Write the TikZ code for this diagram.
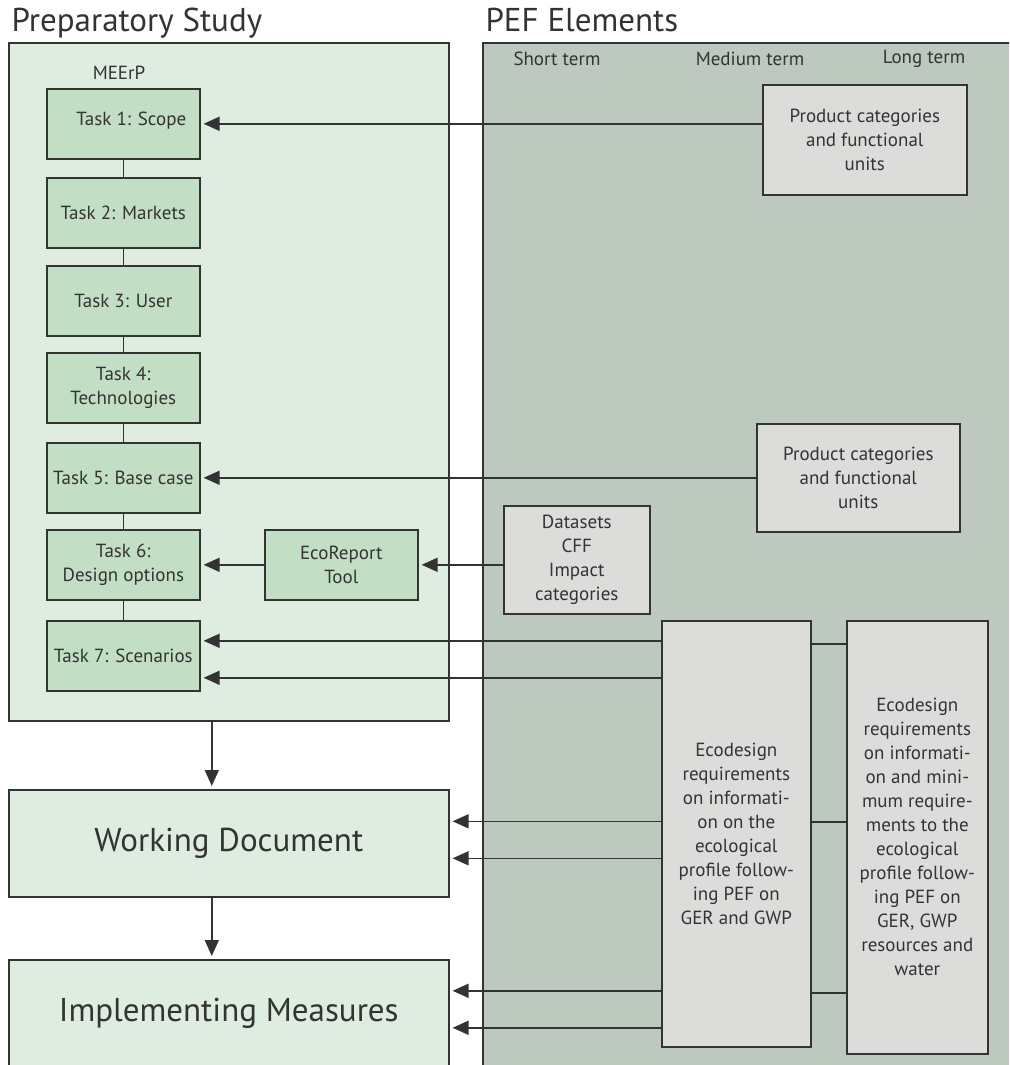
\documentclass[tikz,border=0pt]{standalone}
\usepackage{fontspec}
\setmainfont{PT Sans}
\usetikzlibrary{arrows.meta}

\definecolor{prepfill}{HTML}{DFEDE1}
\definecolor{taskfill}{HTML}{C2DFC5}
\definecolor{peffill}{HTML}{BDC9BF}
\definecolor{boxfill}{HTML}{DCDDDA}
\definecolor{ink}{HTML}{333333}

\newcommand{\boxtext}{\fontsize{19}{24}\selectfont}
\newcommand{\headtext}{\fontsize{33}{38}\selectfont}

\begin{document}
\begin{tikzpicture}[x=1pt,y=-1pt,
  every node/.style={text=ink},
  panel/.style={draw=ink,line width=1.6pt,anchor=north west,inner sep=0pt},
  task/.style={draw=ink,line width=1.6pt,fill=taskfill,anchor=north west,inner sep=0pt,
    minimum width=153pt,minimum height=70pt,align=center,font=\boxtext},
  graybox/.style={draw=ink,line width=1.6pt,fill=boxfill,anchor=north west,inner sep=0pt,
    align=center,font=\boxtext},
  link/.style={draw=ink,line width=1.6pt},
  arr/.style={link,-{Triangle[length=16pt,width=14pt]},shorten >=3pt}]

  \useasboundingbox (0,0) rectangle (1009,1065);
  \clip (0,0) rectangle (1009,1065);

  % the two big panels
  \node[panel,fill=prepfill,minimum width=440pt,minimum height=678pt] (prep) at (8,42) {};
  \node[panel,fill=peffill,minimum width=560pt,minimum height=1060pt] (pef) at (482,42) {};
  \node[anchor=base west,font=\headtext] (preptitle) at (8,32) {Preparatory Study};
  \node[anchor=base west,font=\headtext] (peftitle) at (482,32) {PEF Elements};

  % time horizons
  \node[font=\boxtext] (short) at (557,59) {Short term};
  \node[font=\boxtext] (medium) at (750,59) {Medium term};
  \node[font=\boxtext] (long) at (924,59) {Long term};

  % MEErP tasks
  \node[font=\boxtext] (meerp) at (119,73) {MEErP};
  \node[task] (t1) at (46,88) {\hspace*{16pt}Task 1: Scope\\[-14pt]};
  \node[task] (t2) at (46,177) {Task 2: Markets};
  \node[task] (t3) at (46,265) {Task 3: User};
  \node[task] (t4) at (46,352) {Task 4:\\Technologies};
  \node[task] (t5) at (46,442) {Task 5: Base case};
  \node[task] (t6) at (46,529) {Task 6:\\Design options};
  \node[task] (t7) at (46,620) {Task 7: Scenarios};
  \node[task] (ert) at (264,529) {EcoReport\\Tool};
  \foreach \a/\b in {t1/t2,t2/t3,t3/t4,t4/t5,t5/t6,t6/t7}
    \draw[link] (\a) -- (\b);

  % outputs
  \node[panel,fill=prepfill,minimum width=440pt,minimum height=107pt,font=\headtext] (wd) at (8,789) {Working Document};
  \node[panel,fill=prepfill,minimum width=440pt,minimum height=108pt,font=\headtext] (im) at (8,959) {Implementing Measures};
  \draw[arr] ([xshift=-17pt]prep.south) -- ([xshift=-17pt]wd.north);
  \draw[arr] ([xshift=-17pt]wd.south) -- ([xshift=-17pt]im.north);

  % PEF elements
  \node[graybox,minimum width=204pt,minimum height=110pt] (pc1) at (762,84) {Product categories\\and functional\\units};
  \node[graybox,minimum width=203pt,minimum height=108pt] (pc2) at (756,423) {Product categories\\and functional\\units};
  \node[graybox,minimum width=146pt,minimum height=108pt] (ds) at (503,505) {Datasets\\CFF\\Impact\\categories};
  \node[graybox,minimum width=149pt,minimum height=426pt] (eco1) at (661,620)
    {Ecodesign\\requirements\\on informati-\\on on the\\ecological\\profile follow-\\ing PEF on\\GER and GWP};
  \node[graybox,minimum width=141pt,minimum height=433pt] (eco2) at (846,620)
    {Ecodesign\\requirements\\on informati-\\on and mini-\\mum require-\\ments to the\\ecological\\profile follow-\\ing PEF on\\GER, GWP\\resources and\\water};

  \draw[arr] (pc1.west |- t1.east) -- (t1.east);
  \draw[arr] (pc2.west |- t5.east) -- (t5.east);
  \draw[arr] (ds.west |- ert.east) -- (ert.east);
  \draw[arr] (ert.west) -- (t6.east);

  \draw[arr] ([yshift=15pt]t7.east -| eco1.west) -- ([yshift=15pt]t7.east);
  \draw[arr] ([yshift=-22pt]t7.east -| eco1.west) -- ([yshift=-22pt]t7.east);
  \draw[arr] ([yshift=22pt]wd.east -| eco1.west) -- ([yshift=22pt]wd.east);
  \draw[arr] ([yshift=-15pt]wd.east -| eco1.west) -- ([yshift=-15pt]wd.east);
  \draw[arr] ([yshift=23pt]im.east -| eco1.west) -- ([yshift=23pt]im.east);
  \draw[arr] ([yshift=-14pt]im.east -| eco1.west) -- ([yshift=-14pt]im.east);

  \foreach \s in {190,12,-159}
    \draw[link] ([yshift=\s pt]eco1.east) -- ([yshift=\s pt]eco1.east -| eco2.west);
\end{tikzpicture}
\end{document}
